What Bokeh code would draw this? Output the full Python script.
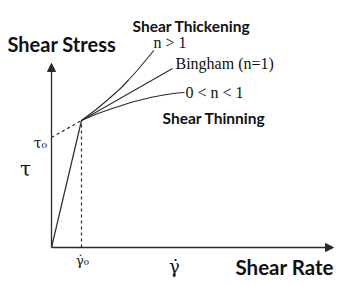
from bokeh.plotting import figure
from bokeh.models import Range1d, Arrow, NormalHead
from bokeh.core.properties import value
from bokeh.embed import file_html
from bokeh.resources import INLINE

# Data (units: shear rate / shear stress, arbitrary)
gamma0 = 3.0          # yield shear rate
tau0 = 11.0           # yield stress (intercept of Bingham line)
tau_y = 12.7          # stress at gamma0
bingham_x = [0.0, 3.0, 12.1]
bingham_y = [11.0, 12.7, 17.9]
thick_x = [3.0, 4.4, 5.6, 6.9, 7.7, 8.57, 9.4, 10.23]
thick_y = [12.7, 13.75, 14.75, 15.9, 16.75, 17.7, 18.7, 19.7]
thin_x = [3.0, 4.5, 6.0, 8.0, 10.0, 11.5, 12.6, 13.3]
thin_y = [12.7, 13.35, 13.87, 14.53, 15.03, 15.3, 15.45, 15.5]
elastic_x = [0.0, 3.0]
elastic_y = [0.0, 12.7]
x_axis_end = 28.2
y_axis_end = 18.4

LC = "#2a2a2a"
TC = "#111111"

p = figure(width=346, height=284, output_backend="svg", toolbar_location=None,
           x_range=Range1d(-5.1, 29.5), y_range=Range1d(-3.7, 24.7),
           min_border=0, min_border_left=0, min_border_right=0,
           min_border_top=0, min_border_bottom=0)
p.axis.visible = False
p.grid.visible = False
p.outline_line_color = None
p.background_fill_color = "white"
p.border_fill_color = "white"

# axes with arrows
p.add_layout(Arrow(end=NormalHead(size=8, fill_color=LC, line_color=LC),
                   x_start=0, y_start=0, x_end=0, y_end=y_axis_end,
                   line_color=LC, line_width=1.3))
p.add_layout(Arrow(end=NormalHead(size=8, fill_color=LC, line_color=LC),
                   x_start=0, y_start=0, x_end=x_axis_end, y_end=0,
                   line_color=LC, line_width=1.3))

# elastic part
p.line(elastic_x, elastic_y, line_color=LC, line_width=1.2)
# dashed guides
p.line([gamma0, gamma0], [0, tau_y], line_color=LC, line_width=1.2, line_dash="3 3")
p.line(bingham_x[:2], bingham_y[:2], line_color=LC, line_width=1.2, line_dash="3 3")
# flow curves
p.line(bingham_x[1:], bingham_y[1:], line_color=LC, line_width=1.1)
p.line(thick_x, thick_y, line_color=LC, line_width=1.1)
p.line(thin_x, thin_y, line_color=LC, line_width=1.1)

def txt(x, y, s, size, font, bold=False, align="left"):
    p.text(x=[x], y=[y], text=[s], text_font=value(font),
           text_font_size=f"{size}px", text_font_style="bold" if bold else "normal",
           text_align=align, text_baseline="middle", text_color=TC)

txt(-4.4, 20.4, "Shear Stress", 20, "Lato", True)
txt(8.1, 22.2, "Shear Thickening", 15.5, "Lato", True)
txt(11.1, 13.0, "Shear Thinning", 15.5, "Lato", True)
txt(18.4, -1.9, "Shear Rate", 20.5, "Lato", True)
txt(10.2, 20.5, "n > 1", 16, "Liberation Serif")
txt(12.4, 18.4, "Bingham (n=1)", 16, "Liberation Serif")
txt(13.4, 15.5, "0 < n < 1", 16, "Liberation Serif")
txt(-1.1, 10.5, "τ₀", 14, "DejaVu Serif", align="center")
txt(-2.6, 7.9, "τ", 20, "DejaVu Serif", align="center")
txt(3.1, -1.3, "γ̇₀", 13, "DejaVu Serif", align="center")
txt(12.3, -1.9, "γ̇", 18, "DejaVu Serif", align="center")

open("out.html", "w").write(file_html(p, INLINE))
